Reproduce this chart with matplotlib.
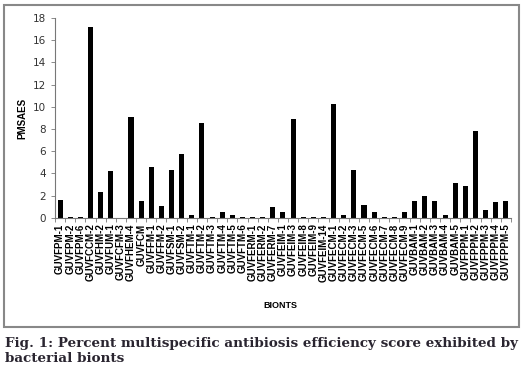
import matplotlib.pyplot as plt
from matplotlib.patches import Rectangle
import numpy as np

bionts = [
    "GUVFPM-1", "GUVFPM-2", "GUVFPM-6", "GUVFCCM-2", "GUVFHM-2", "GUVFUM-1",
    "GUVFCFM-3", "GUVFHEM-4", "GUVFCM", "GUVFFM-1", "GUVFFM-2", "GUVFSM-1",
    "GUVFSM-2", "GUVFTM-1", "GUVFTM-2", "GUVFTM-3", "GUVFTM-4", "GUVFTM-5",
    "GUVFTM-6", "GUVFERM-1", "GUVFERM-2", "GUVFERM-7", "GUVFEIM-1", "GUVFEIM-3",
    "GUVFEIM-8", "GUVFEIM-9", "GUVFEIM-14", "GUVFECM-1", "GUVFECM-2", "GUVFECM-3",
    "GUVFECM-5", "GUVFECM-6", "GUVFECM-7", "GUVFECM-8", "GUVFECM-9", "GUVBAM-1",
    "GUVBAM-2", "GUVBAM-3", "GUVBAM-4", "GUVBAM-5", "GUVFPPM-1", "GUVFPPM-2",
    "GUVFPPM-3", "GUVFPPM-4", "GUVFPPM-5",
]
pmsaes = [
    1.6, 0.05, 0.05, 17.2, 2.35, 4.2,
    0.0, 9.05, 1.5, 4.55, 1.05, 4.3,
    5.75, 0.25, 8.55, 0.05, 0.5, 0.25,
    0.05, 0.05, 0.05, 0.95, 0.5, 8.9,
    0.05, 0.05, 0.05, 10.25, 0.25, 4.35,
    1.2, 0.5, 0.05, 0.05, 0.5, 1.5,
    2.0, 1.55, 0.3, 3.15, 2.85, 7.85,
    0.75, 1.4, 1.5,
]
caption = ("Fig. 1: Percent multispecific antibiosis efficiency score exhibited by\n"
           "bacterial bionts")

fig = plt.figure(figsize=(5.24, 3.68), dpi=100)
ax = fig.add_axes([0.105, 0.408, 0.870, 0.543])

x = np.arange(len(bionts))
ax.bar(x, pmsaes, width=0.5, color="black")

ax.set_xlim(-0.5, len(bionts) - 0.5)
ax.set_ylim(0, 18)
ax.set_yticks(range(0, 19, 2))
ax.tick_params(axis="y", labelsize=7.5, labelcolor="#333333", length=3, width=0.6, color="#777777")

ax.set_xticks(x)
ax.set_xticklabels(bionts, rotation=90, fontsize=7, fontweight="bold", family="Liberation Sans")
ax.tick_params(axis="x", which="major", length=0, pad=4)
ax.set_xticks(np.arange(-0.5, len(bionts), 1), minor=True)
ax.tick_params(axis="x", which="minor", length=3, width=0.6, color="#777777")

for s in ["top", "right"]:
    ax.spines[s].set_visible(False)
for s in ["left", "bottom"]:
    ax.spines[s].set_color("#777777")
    ax.spines[s].set_linewidth(0.8)

ax.set_ylabel("PMSAES", fontsize=7, fontweight="bold", family="Liberation Sans", labelpad=4)
fig.text(0.535, 0.17, "BIONTS", ha="center", va="center", fontsize=6.5,
         fontweight="bold", family="Liberation Sans")

fig.patches.append(Rectangle((0.008, 0.111), 0.982, 0.876, transform=fig.transFigure,
                             fill=False, edgecolor="#888888", linewidth=1.5))

fig.text(0.01, 0.046, caption, ha="left", va="center", fontsize=9.7,
         fontweight="bold", family="DejaVu Serif", color="#2a2530", linespacing=1.15)

fig.savefig("out.png", dpi=100)
